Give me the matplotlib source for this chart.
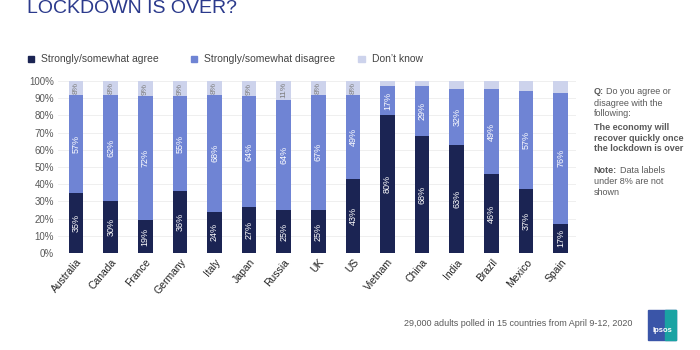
import matplotlib.pyplot as plt
import matplotlib.patches as mpatches
import numpy as np

plt.rcParams["font.family"] = ["Liberation Sans", "DejaVu Sans"]

countries = ["Australia", "Canada", "France", "Germany", "Italy", "Japan", "Russia",
             "UK", "US", "Vietnam", "China", "India", "Brazil", "Mexico", "Spain"]
agree = [35, 30, 19, 36, 24, 27, 25, 25, 43, 80, 68, 63, 46, 37, 17]
disagree = [57, 62, 72, 55, 68, 64, 64, 67, 49, 17, 29, 32, 49, 57, 76]
dont_know = [8, 8, 9, 9, 8, 9, 11, 8, 8, 3, 3, 5, 5, 6, 7]
series_names = ["Strongly/somewhat agree", "Strongly/somewhat disagree", "Don\u2019t know"]

c_agree = "#1b2453"
c_dis = "#6f84d4"
c_dk = "#cdd3ec"
grey = "#595959"

fig = plt.figure(figsize=(7, 3.5), dpi=100)
ax = fig.add_axes([0.083, 0.277, 0.74, 0.492])

x = np.arange(len(countries))
w = 0.42
a = np.array(agree)
d = np.array(disagree)
k = np.array(dont_know)
ax.bar(x, a, w, color=c_agree, zorder=2)
ax.bar(x, d, w, bottom=a, color=c_dis, zorder=2)
ax.bar(x, k, w, bottom=a + d, color=c_dk, zorder=2)

# labels under 8% are not shown
for i in range(len(x)):
    if a[i] >= 8:
        ax.text(x[i], a[i] / 2, f"{a[i]}%", rotation=90,
                ha="center", va="center", color="white", fontsize=6.5)
    if d[i] >= 8:
        ax.text(x[i], a[i] + d[i] / 2, f"{d[i]}%", rotation=90,
                ha="center", va="center", color="white", fontsize=6.5)
    if k[i] >= 8:
        ax.text(x[i], a[i] + d[i] + k[i] / 2, f"{k[i]}%", rotation=90,
                ha="center", va="center", color="#7f7f7f", fontsize=6)

ax.set_xlim(-0.52, 14.45)
ax.set_ylim(0, 100)
ax.set_yticks(range(0, 101, 10))
ax.set_yticklabels([f"{v}%" for v in range(0, 101, 10)], fontsize=7, color=grey)
ax.set_xticks(x)
ax.set_xticklabels(countries, rotation=50, ha="right", rotation_mode="anchor",
                   fontsize=7.5, color="#222222")
ax.tick_params(length=0, pad=3)
ax.yaxis.grid(True, color="#ececec", linewidth=0.6, zorder=0)
for s in ax.spines.values():
    s.set_visible(False)

# title (cut off at top in the original slide)
fig.text(0.038, 0.975, "LOCKDOWN IS OVER?", fontsize=14, color="#2b3a8c", va="center")

# legend
leg_x = [0.040, 0.273, 0.512]
for lx, name, col in zip(leg_x, series_names, [c_agree, c_dis, c_dk]):
    fig.patches.append(mpatches.Rectangle((lx, 0.822), 0.009, 0.018, color=col,
                                          transform=fig.transFigure))
    fig.text(lx + 0.019, 0.831, name, fontsize=7.5, color="#444444", va="center")

# side note
note_y = 0.752
fig.text(0.848, note_y, "Q:", fontsize=6.5, color=grey, weight="bold", va="top")
fig.text(0.866, note_y, "Do you agree or", fontsize=6.5, color=grey, va="top")
fig.text(0.848, note_y - 0.034, "disagree with the\nfollowing:", fontsize=6.5,
         color=grey, va="top", linespacing=1.25)
fig.text(0.848, note_y - 0.103, "The economy will\nrecover quickly once\nthe lockdown is over",
         fontsize=6.5, color=grey, weight="bold", va="top", linespacing=1.25)
fig.text(0.848, note_y - 0.225, "Note:", fontsize=6.5, color=grey, weight="bold", va="top")
fig.text(0.886, note_y - 0.225, "Data labels", fontsize=6.5, color=grey, va="top")
fig.text(0.848, note_y - 0.259, "under 8% are not\nshown", fontsize=6.5, color=grey,
         va="top", linespacing=1.25)

# footer
fig.text(0.903, 0.077, "29,000 adults polled in 15 countries from April 9-12, 2020",
         fontsize=6.5, color=grey, ha="right", va="center")

# logo
fig.patches.append(mpatches.Rectangle((0.926, 0.028), 0.040, 0.086, color="#3a55a8",
                                      transform=fig.transFigure))
fig.patches.append(mpatches.Rectangle((0.950, 0.028), 0.016, 0.086, color="#1aa3a3",
                                      transform=fig.transFigure))
fig.text(0.946, 0.055, "Ipsos", fontsize=5.5, color="white", weight="bold",
         ha="center", va="center")

fig.savefig("out.png", dpi=100)
